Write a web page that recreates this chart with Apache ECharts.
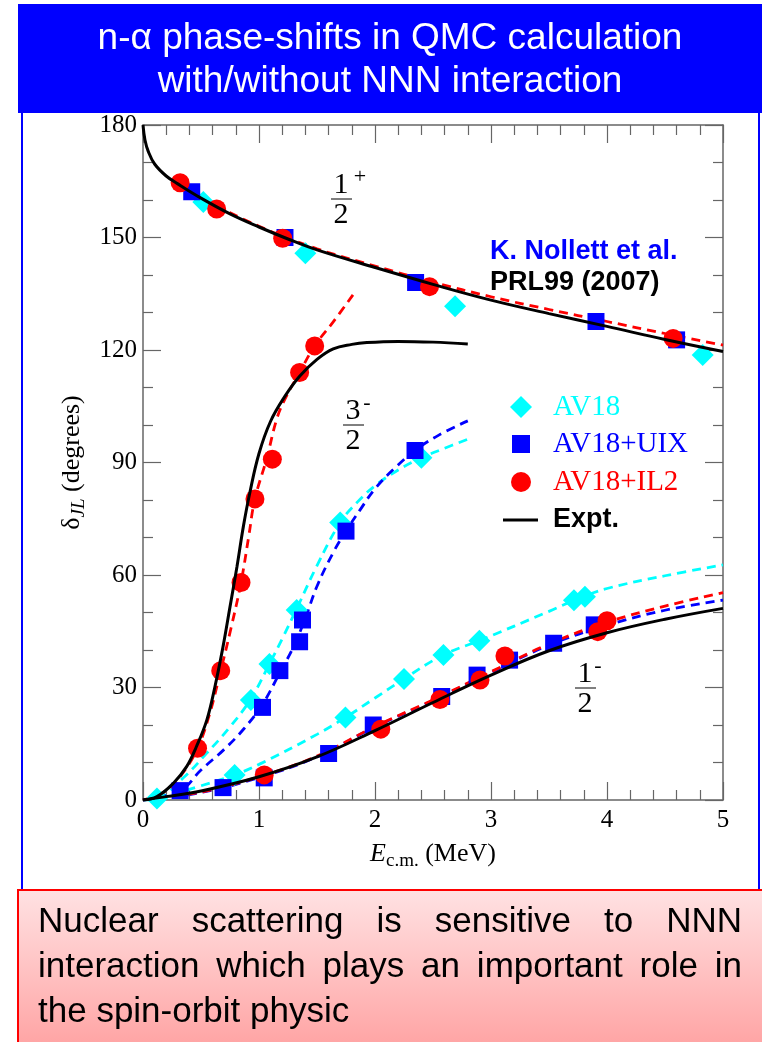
<!DOCTYPE html>
<html>
<head>
<meta charset="utf-8">
<script src="https://cdn.jsdelivr.net/npm/echarts@6/dist/echarts.min.js"></script>
<style>
  html, body { margin: 0; padding: 0; background: #fff; }
  #grafico { width: 762px; height: 1042px; }
</style>
</head>
<body>
<div id="grafico"></div>
<script>
// Datos: [E c.m. (MeV), delta (grados)]
// AV18 (rombos cian)
const av18 = [
  [0.52, 159.5], [1.40, 145.8], [2.69, 131.7], [4.825, 118.7],
  [0.12, 0.4], [0.93, 26.7], [1.09, 36.3], [1.325, 50.7], [1.70, 74], [2.40, 91.3],
  [0.79, 6.7], [1.745, 22], [2.25, 32.3], [2.59, 38.7], [2.90, 42.5], [3.715, 53.3], [3.81, 54.2]
];
// AV18+UIX (cuadrados azules)
const av18uix = [
  [0.42, 162.2], [1.224, 150], [2.35, 138], [3.905, 127.6], [4.60, 122.7],
  [0.32, 2.5], [1.03, 24.7], [1.18, 34.5], [1.35, 42.2], [1.375, 48], [1.75, 71.7], [2.345, 93.2],
  [0.69, 3.3], [1.045, 5.9], [1.60, 12.4], [1.985, 20], [2.575, 27.6], [2.88, 33.3], [3.16, 37.3], [3.54, 41.8], [3.89, 46.7]
];
// AV18+IL2 (círculos rojos)
const av18il2 = [
  [0.32, 164.6], [0.635, 157.6], [1.204, 149.8], [2.47, 136.9], [4.57, 123.1],
  [0.47, 13.8], [0.67, 34.5], [0.845, 58], [0.965, 80.3], [1.115, 90.9], [1.35, 114], [1.48, 121.1],
  [1.045, 6.7], [2.05, 18.9], [2.56, 26.8], [2.905, 32], [3.12, 38.4], [3.92, 44.9], [4.0, 47.8]
];

// Curvas experimentales (línea negra)
const expt12p = [[0, 180], [0.017, 176], [0.046, 172.9], [0.1, 169.6], [0.2, 166.4], [0.3, 164.3], [0.5, 160.5],
  [0.75, 156.3], [1, 152.8], [1.25, 149.6], [1.5, 146.7], [2, 142], [2.5, 137.5], [3, 133.3], [3.5, 129.7],
  [4, 126.3], [4.5, 122.8], [5, 119.6]];
const expt32m = [[0, 0], [0.12, 0.9], [0.26, 4.4], [0.376, 8.9], [0.46, 14.2], [0.55, 21.3], [0.62, 30.2],
  [0.69, 40.9], [0.75, 51.5], [0.81, 62.2], [0.865, 72.9], [0.92, 81.8], [1.0, 92.4], [1.1, 101], [1.22, 107.5],
  [1.35, 113], [1.5, 117.5], [1.64, 120.3], [1.8, 121.5], [1.93, 122], [2.2, 122.3], [2.5, 122.1], [2.8, 121.6]];
const expt12m = [[0, 0], [0.2, 0.9], [0.5, 2.4], [1, 6.2], [1.5, 11.5], [2, 18.5], [2.5, 26], [3, 33.3],
  [3.5, 39.8], [4, 44.6], [4.5, 48.2], [5, 51.1]];

// Ajustes QMC (líneas discontinuas)
const redFit12p = [[0.3, 164.8], [0.5, 160.7], [1, 153], [1.5, 147], [2, 142.4], [2.5, 138.1], [3, 134.2],
  [3.5, 130.8], [4, 127.6], [4.5, 124.4], [5, 121.3]];
const cyanFit32m = [[0, 0], [0.12, 0.4], [0.35, 6], [0.55, 12.5], [0.75, 19.5], [0.93, 27], [1.09, 36.3],
  [1.2, 43], [1.325, 51], [1.5, 62.5], [1.7, 74], [1.85, 79.5], [2.0, 83.8], [2.2, 88], [2.39, 91.1],
  [2.6, 93.8], [2.8, 96.2]];
const blueFit32m = [[0, 0], [0.32, 2.5], [0.5, 8], [0.7, 13.5], [0.87, 19], [1.03, 25.5], [1.18, 34],
  [1.3, 41], [1.4, 48.5], [1.5, 57], [1.64, 66], [1.75, 71.7], [1.87, 77.3], [2.0, 83], [2.17, 88.5],
  [2.345, 93.2], [2.55, 97.3], [2.8, 101.1]];
const redFit32m = [[0, 0], [0.2, 2.5], [0.35, 7.5], [0.47, 13.8], [0.57, 22.5], [0.67, 34.5], [0.76, 46],
  [0.845, 58], [0.91, 70], [0.965, 80.3], [1.066, 91], [1.15, 101.3], [1.22, 106.7], [1.35, 114],
  [1.48, 121.1], [1.64, 127.5], [1.81, 134.7]];
const cyanFit12m = [[0, 0], [0.12, 0.4], [0.5, 3.8], [0.79, 6.7], [1, 9.5], [1.5, 17.5], [1.745, 22],
  [2, 27.2], [2.25, 32.3], [2.59, 38.7], [2.9, 42.5], [3.5, 50.3], [3.76, 53.8], [4, 56.4], [4.5, 59.8], [5, 62.7]];
const blueFit12m = [[0, 0], [0.5, 2], [1, 6], [1.5, 11.5], [2, 19.5], [2.5, 26.5], [3, 34], [3.5, 41.3],
  [4, 46.6], [4.5, 50.6], [5, 53.3]];
const redFit12m = [[0, 0], [0.5, 2.1], [1, 6.2], [1.5, 11.7], [2, 19.6], [2.5, 26.7], [3, 34.2], [3.5, 41.6],
  [4, 47.4], [4.5, 51.7], [5, 55.3]];

const tituloLineas = ['n-α phase-shifts in QMC calculation', 'with/without NNN interaction'];
const notaLineas = ['Nuclear scattering is sensitive to NNN',
  'interaction which plays an important role in', 'the spin-orbit physic'];

const SANS = '"Liberation Sans", Arial, sans-serif';
const SERIF = '"Liberation Serif", "Times New Roman", serif';

const grafico = echarts.init(document.getElementById('grafico'));

// Medir palabras para justificar el texto inferior
const lienzo = document.createElement('canvas').getContext('2d');
function lineaJustificada(texto, x0, x1, y, tam) {
  const palabras = texto.split(' ');
  lienzo.font = tam + 'px "Liberation Sans"';
  const anchos = palabras.map(p => lienzo.measureText(p).width);
  const total = anchos.reduce((a, b) => a + b, 0);
  const hueco = (x1 - x0 - total) / (palabras.length - 1);
  let x = x0;
  return palabras.map((p, i) => {
    const el = {
      type: 'text', x: x, y: y, z: 20,
      style: { text: p, fill: '#000', fontSize: tam, fontFamily: SANS,
        align: 'left', verticalAlign: 'middle', textAlign: 'left', textVerticalAlign: 'middle' }
    };
    x += anchos[i] + hueco;
    return el;
  });
}

function texto(t, x, y, tam, familia, color, peso, alinear) {
  return {
    type: 'text', x: x, y: y, z: 20,
    style: { text: t, fill: color || '#000', fontSize: tam, fontFamily: familia, fontWeight: peso || 'normal',
      align: alinear || 'center', verticalAlign: 'middle', textAlign: alinear || 'center', textVerticalAlign: 'middle' }
  };
}

// Fracción tipo 1/2 con superíndice
function fraccion(num, den, sup, cx, barraY, supX, supY) {
  return [
    texto(num, cx, barraY - 14, 30, SERIF),
    texto(den, cx, barraY + 16, 30, SERIF),
    { type: 'line', z: 20, shape: { x1: cx - 10, y1: barraY, x2: cx + 11, y2: barraY }, style: { stroke: '#000', lineWidth: 1 } },
    texto(sup, supX, supY, 22, SERIF)
  ];
}

const elementos = [
  { type: 'rect', z: 10, shape: { x: 18, y: 4, width: 760, height: 109 }, style: { fill: '#0000ff' } },
  texto(tituloLineas[0], 390, 39, 37, SANS, '#fff'),
  texto(tituloLineas[1], 390, 82, 37, SANS, '#fff'),
  { type: 'line', z: 10, shape: { x1: 22, y1: 113, x2: 22, y2: 890 }, style: { stroke: '#0000ff', lineWidth: 2 } },
  { type: 'line', z: 10, shape: { x1: 759, y1: 113, x2: 759, y2: 890 }, style: { stroke: '#0000ff', lineWidth: 2 } },
  {
    type: 'rect', z: 10, shape: { x: 18, y: 890, width: 760, height: 170 },
    style: {
      fill: new echarts.graphic.LinearGradient(0, 0, 0, 1, [
        { offset: 0, color: '#ffe2e3' }, { offset: 1, color: '#ff9e9e' }
      ]),
      stroke: '#ff0000', lineWidth: 2
    }
  },
  texto('K. Nollett et al.', 490, 252, 27, SANS, '#0000ff', 'bold', 'left'),
  texto('PRL99 (2007)', 490, 283, 27, SANS, '#000', 'bold', 'left')
]
  .concat(lineaJustificada(notaLineas[0], 38, 742, 922, 35))
  .concat(lineaJustificada(notaLineas[1], 38, 742, 967, 35))
  .concat([texto(notaLineas[2], 38, 1012, 35, SANS, '#000', 'normal', 'left')])
  .concat(fraccion('1', '2', '+', 341, 199, 360, 177))
  .concat(fraccion('3', '2', '-', 353, 425, 367, 403))
  .concat(fraccion('1', '2', '-', 585, 688, 598, 666));

const ejeX = {
  type: 'value', min: 0, max: 5, interval: 1,
  axisLine: { show: true, onZero: false, lineStyle: { color: '#666', width: 1.5 } },
  axisTick: { show: true, inside: true, length: 18, lineStyle: { color: '#666', width: 1.2 } },
  minorTick: { show: true, splitNumber: 5, length: 10, lineStyle: { color: '#666', width: 1.2 } },
  splitLine: { show: false }
};
const ejeY = {
  type: 'value', min: 0, max: 180, interval: 30,
  axisLine: { show: true, onZero: false, lineStyle: { color: '#666', width: 1.5 } },
  axisTick: { show: true, inside: true, length: 18, lineStyle: { color: '#666', width: 1.2 } },
  minorTick: { show: true, splitNumber: 3, length: 10, lineStyle: { color: '#666', width: 1.2 } },
  splitLine: { show: false }
};

function lineaAjuste(nombre, datos, color) {
  return {
    name: nombre, type: 'line', data: datos, smooth: 0.4, symbol: 'none', z: 1,
    lineStyle: { color: color, width: 2.8, type: [9, 6] }, silent: true
  };
}
function lineaExpt(datos) {
  return {
    name: 'Expt.', type: 'line', data: datos, smooth: 0.4, symbol: 'none', z: 4,
    itemStyle: { color: '#000' }, lineStyle: { color: '#000', width: 3 }
  };
}
function leyenda(nombre, izq, arriba, ancho, alto, estilo, relleno, icono) {
  const l = {
    data: [nombre], left: izq, top: arriba, orient: 'vertical', padding: 0,
    itemWidth: ancho, itemHeight: alto, selectedMode: false,
    textStyle: Object.assign({ lineHeight: 30, padding: [0, 0, 0, relleno] }, estilo)
  };
  if (icono) l.icon = icono;
  return l;
}

const opciones = {
  animation: false,
  grid: { left: 143, top: 125, width: 580, height: 675 },
  xAxis: [
    Object.assign({}, ejeX, {
      position: 'bottom',
      axisLabel: { color: '#000', fontSize: 25, fontFamily: SERIF, margin: 8 },
      name: '{i|E}{s|c.m.}{n| (MeV)}', nameLocation: 'middle', nameGap: 36,
      nameTextStyle: {
        rich: {
          i: { fontSize: 26, fontFamily: SERIF, fontStyle: 'italic', color: '#000', lineHeight: 30 },
          s: { fontSize: 19, fontFamily: SERIF, color: '#000', lineHeight: 30, padding: [14, 0, 0, 0] },
          n: { fontSize: 26, fontFamily: SERIF, color: '#000', lineHeight: 30 }
        }
      }
    }),
    Object.assign({}, ejeX, { position: 'top', axisLabel: { show: false } })
  ],
  yAxis: [
    Object.assign({}, ejeY, {
      position: 'left',
      axisLabel: { color: '#000', fontSize: 25, fontFamily: SERIF, margin: 6 },
      name: '{d|δ}{s|JL}{d| (degrees)}', nameLocation: 'middle', nameGap: 56, nameRotate: 90,
      nameTextStyle: {
        rich: {
          d: { fontSize: 26, fontFamily: SERIF, color: '#000', lineHeight: 30 },
          s: { fontSize: 19, fontFamily: SERIF, fontStyle: 'italic', color: '#000', lineHeight: 30, padding: [14, 0, 0, 0] }
        }
      }
    }),
    Object.assign({}, ejeY, { position: 'right', axisLabel: { show: false } })
  ],
  legend: [
    leyenda('AV18', 510, 392, 22, 22, { color: '#00ffff', fontSize: 29, fontFamily: SERIF }, 16),
    leyenda('AV18+UIX', 512, 429, 18, 18, { color: '#0000ff', fontSize: 29, fontFamily: SERIF }, 18),
    leyenda('AV18+IL2', 511, 467, 20, 20, { color: '#ff0000', fontSize: 29, fontFamily: SERIF }, 17),
    leyenda('Expt.', 503, 505, 35, 3, { color: '#000', fontSize: 27, fontFamily: SANS, fontWeight: 'bold' }, 10, 'rect')
  ],
  graphic: { elements: elementos },
  series: [
    lineaAjuste('AV18 ajuste 3/2-', cyanFit32m, '#00ffff'),
    lineaAjuste('AV18 ajuste 1/2-', cyanFit12m, '#00ffff'),
    lineaAjuste('UIX ajuste 3/2-', blueFit32m, '#0000ff'),
    lineaAjuste('UIX ajuste 1/2-', blueFit12m, '#0000ff'),
    lineaAjuste('IL2 ajuste 1/2+', redFit12p, '#ff0000'),
    lineaAjuste('IL2 ajuste 3/2-', redFit32m, '#ff0000'),
    lineaAjuste('IL2 ajuste 1/2-', redFit12m, '#ff0000'),
    { name: 'AV18', type: 'scatter', data: av18, symbol: 'diamond', symbolSize: 22, z: 2,
      itemStyle: { color: '#00ffff', opacity: 1 } },
    { name: 'AV18+UIX', type: 'scatter', data: av18uix, symbol: 'rect', symbolSize: 17, z: 2,
      itemStyle: { color: '#0000ff', opacity: 1 } },
    { name: 'AV18+IL2', type: 'scatter', data: av18il2, symbol: 'circle', symbolSize: 19, z: 2,
      itemStyle: { color: '#ff0000', opacity: 1 } },
    lineaExpt(expt12p),
    lineaExpt(expt32m),
    lineaExpt(expt12m)
  ]
};

grafico.setOption(opciones);
</script>
</body>
</html>
